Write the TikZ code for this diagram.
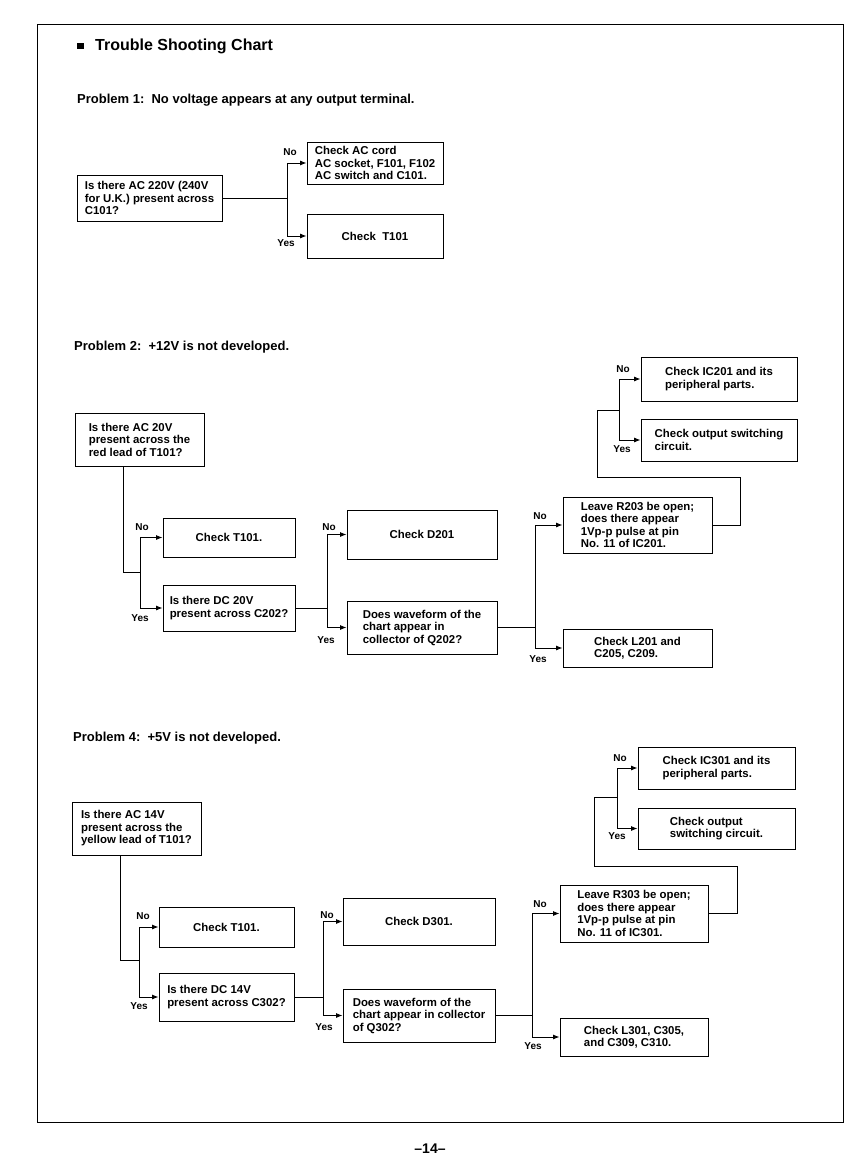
\documentclass[tikz,border=0pt]{standalone}
\usepackage{fontspec}
\setmainfont{Liberation Sans}
\usetikzlibrary{arrows.meta}
\tikzset{
  box/.style={draw, line width=0.9pt, rectangle, inner sep=0pt, align=left,
    font=\bfseries\fontsize{11.4}{12.5}\selectfont},
  arr/.style={line width=0.9pt, -{Latex[length=6.5pt,width=5pt]}},
  ln/.style={line width=0.9pt},
  lab/.style={font=\bfseries\fontsize{10}{11}\selectfont, inner sep=0pt},
  ttl/.style={font=\bfseries\fontsize{13}{15}\selectfont, anchor=west, inner sep=0pt}
}
\begin{document}
\begin{tikzpicture}[x=1pt,y=-1pt]
\useasboundingbox (0,0) rectangle (861,1166);
\fill[white] (0,0) rectangle (861,1166);
\draw[line width=0.7pt] (37,24) rectangle (843,1122);
\node[anchor=center, font=\bfseries\fontsize{14}{16}\selectfont] (pg) at (430,1149) {--14--};

% titles
\node[anchor=west, inner sep=0pt] (bul) at (77,46) {\rule{6.5pt}{6.5pt}};
\node[anchor=west, inner sep=0pt, font=\bfseries\fontsize{16}{18}\selectfont] (t0) at (95,46) {Trouble Shooting Chart};
\node[ttl] (t1) at (77,100) {Problem 1:\ \ No voltage appears at any output terminal.};
\node[ttl] (t2) at (74,347) {Problem 2:\ \ +12V is not developed.};
\node[ttl] (t4) at (73,738) {Problem 4:\ \ +5V is not developed.};

% ---------- Problem 1 ----------
\node[box, minimum width=145pt, minimum height=46pt] (q1) at (149.5,198) {Is there AC 220V (240V\\for U.K.) present across\\C101?};
\node[box, minimum width=136pt, minimum height=42pt] (c1) at (375,163) {Check AC cord\\AC socket, F101, F102\\AC switch and C101.};
\node[box, minimum width=136pt, minimum height=44pt] (c2) at (375,236) {Check\ \ T101};
\coordinate (j1) at (287,198);
\draw[ln] (q1.east) -- (j1);
\draw[arr] (j1) |- (c1.west);
\draw[arr] (j1) |- (c2.west);
\node[lab] (n1) at (290,152) {No};
\node[lab] (y1) at (286,243) {Yes};

% ---------- Problem 2 ----------
\node[box, minimum width=129pt, minimum height=53pt] (q2) at (139.5,439.5) {Is there AC 20V\\present across the\\red lead of T101?};
\node[box, minimum width=132pt, minimum height=39pt] (k2a) at (229,537.5) {Check T101.};
\node[box, minimum width=132pt, minimum height=46pt] (k2b) at (229,608) {Is there DC 20V\\present across C202?};
\node[box, minimum width=150pt, minimum height=49pt] (k2c) at (422,534.5) {Check D201};
\node[box, minimum width=150pt, minimum height=53pt] (k2d) at (422,627.5) {Does waveform of the\\chart appear in\\collector of Q202?};
\node[box, minimum width=149pt, minimum height=56pt] (k2e) at (637.5,525) {Leave R203 be open;\\does there appear\\1Vp-p pulse at pin\\No. 11 of IC201.};
\node[box, minimum width=149pt, minimum height=38pt] (k2f) at (637.5,648) {Check L201 and\\C205, C209.};
\node[box, minimum width=156pt, minimum height=44pt] (k2g) at (719,379) {Check IC201 and its\\peripheral parts.};
\node[box, minimum width=156pt, minimum height=42pt] (k2h) at (719,440) {Check output switching\\circuit.};

\coordinate (a2) at (123,572);
\coordinate (j21) at (140,572);
\coordinate (j22) at (327,608);
\coordinate (j23) at (535,627.5);
\coordinate (b21) at (740,525);
\coordinate (b22) at (740,477);
\coordinate (b23) at (597,477);
\coordinate (b24) at (597,410);
\coordinate (j24) at (619,410);
\draw[ln] (q2.south -| a2) -- (a2) -- (j21);
\draw[arr] (j21) |- (k2a.west);
\draw[arr] (j21) |- (k2b.west);
\draw[ln] (k2b.east) -- (j22);
\draw[arr] (j22) |- (k2c.west);
\draw[arr] (j22) |- (k2d.west);
\draw[ln] (k2d.east) -- (j23);
\draw[arr] (j23) |- (k2e.west);
\draw[arr] (j23) |- (k2f.west);
\draw[ln] (k2e.east) -- (b21) -- (b22) -- (b23) -- (b24) -- (j24);
\draw[arr] (j24) |- (k2g.west);
\draw[arr] (j24) |- (k2h.west);
\node[lab] (n21) at (142,527) {No};
\node[lab] (y21) at (140,618) {Yes};
\node[lab] (n22) at (329,527) {No};
\node[lab] (y22) at (326,640) {Yes};
\node[lab] (n23) at (540,516) {No};
\node[lab] (y23) at (538,659) {Yes};
\node[lab] (n24) at (623,369) {No};
\node[lab] (y24) at (622,449) {Yes};

% ---------- Problem 4 ----------
\node[box, minimum width=129pt, minimum height=53pt] (q4) at (136.5,828.5) {Is there AC 14V\\present across the\\yellow lead of T101?};
\node[box, minimum width=135pt, minimum height=40pt] (k4a) at (226.5,927) {Check T101.};
\node[box, minimum width=135pt, minimum height=48pt] (k4b) at (226.5,997) {Is there DC 14V\\present across C302?};
\node[box, minimum width=152pt, minimum height=47pt] (k4c) at (419,921.5) {Check D301.};
\node[box, minimum width=152pt, minimum height=53pt] (k4d) at (419,1015.5) {Does waveform of the\\chart appear in collector\\of Q302?};
\node[box, minimum width=148pt, minimum height=57pt] (k4e) at (634,913.5) {Leave R303 be open;\\does there appear\\1Vp-p pulse at pin\\No. 11 of IC301.};
\node[box, minimum width=148pt, minimum height=38pt] (k4f) at (634,1037) {Check L301, C305,\\and C309, C310.};
\node[box, minimum width=157pt, minimum height=42pt] (k4g) at (716.5,768) {Check IC301 and its\\peripheral parts.};
\node[box, minimum width=157pt, minimum height=41pt] (k4h) at (716.5,828.5) {Check output\\switching circuit.};

\coordinate (a4) at (120,960);
\coordinate (j41) at (139,960);
\coordinate (j42) at (323,997);
\coordinate (j43) at (532,1015.5);
\coordinate (b41) at (737,913.5);
\coordinate (b42) at (737,866);
\coordinate (b43) at (594,866);
\coordinate (b44) at (594,797);
\coordinate (j44) at (617,797);
\draw[ln] (q4.south -| a4) -- (a4) -- (j41);
\draw[arr] (j41) |- (k4a.west);
\draw[arr] (j41) |- (k4b.west);
\draw[ln] (k4b.east) -- (j42);
\draw[arr] (j42) |- (k4c.west);
\draw[arr] (j42) |- (k4d.west);
\draw[ln] (k4d.east) -- (j43);
\draw[arr] (j43) |- (k4e.west);
\draw[arr] (j43) |- (k4f.west);
\draw[ln] (k4e.east) -- (b41) -- (b42) -- (b43) -- (b44) -- (j44);
\draw[arr] (j44) |- (k4g.west);
\draw[arr] (j44) |- (k4h.west);
\node[lab] (n41) at (143,916) {No};
\node[lab] (y41) at (139,1006) {Yes};
\node[lab] (n42) at (327,915) {No};
\node[lab] (y42) at (324,1027) {Yes};
\node[lab] (n43) at (540,904) {No};
\node[lab] (y43) at (533,1046) {Yes};
\node[lab] (n44) at (620,758) {No};
\node[lab] (y44) at (617,836) {Yes};
\end{tikzpicture}
\end{document}
